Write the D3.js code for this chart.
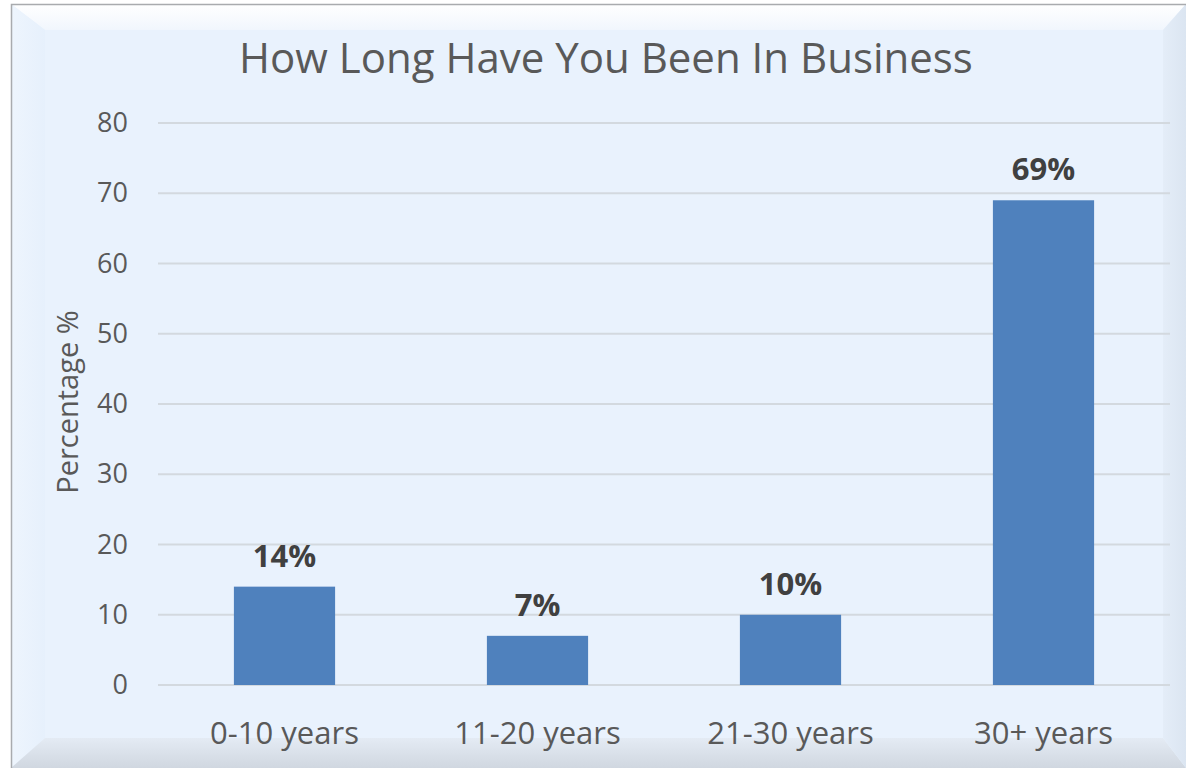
<!DOCTYPE html>
<html>
<head>
<meta charset="utf-8">
<script src="https://cdn.jsdelivr.net/npm/d3@7"></script>
<style>
  html, body { margin: 0; padding: 0; background: #ffffff; }
  svg { display: block; font-family: "Open Sans", "Noto Sans", sans-serif; }
</style>
</head>
<body>
<svg id="chart" width="1186" height="768"></svg>
<script>
const categories = ['0-10 years', '11-20 years', '21-30 years', '30+ years'];
const values = [14, 7, 10, 69];
const valueLabels = ['14%', '7%', '10%', '69%'];
const yTicks = [0, 10, 20, 30, 40, 50, 60, 70, 80];
const titleText = 'How Long Have You Been In Business';
const yTitle = 'Percentage %';

const barColor = '#4f81bd';
const textColor = '#595959';

const svg = d3.select('#chart');
const W = 1186, H = 768;

// beveled frame
const frame = {x0: 11, y0: 4, x1: 1186, y1: 768};
const inner = {x0: 45, y0: 30, x1: 1163, y1: 738};

const defs = svg.append('defs');
function grad(id, x1, y1, x2, y2, stops) {
    const g = defs.append('linearGradient').attr('id', id)
        .attr('x1', x1).attr('y1', y1).attr('x2', x2).attr('y2', y2);
    stops.forEach(s => g.append('stop').attr('offset', s[0]).attr('stop-color', s[1]));
}
grad('gTop', 0, 0, 0, 1, [[0, '#ffffff'], [1, '#f1f6fd']]);
grad('gLeft', 0, 0, 1, 0, [[0, '#eef5fd'], [1, '#e6f0fc']]);
grad('gBottom', 0, 0, 0, 1, [[0, '#e4ebf4'], [1, '#d0d7e0']]);
grad('gRight', 0, 0, 1, 0, [[0, '#e4edf8'], [1, '#dbe5f1']]);

svg.append('rect')
    .attr('x', frame.x0).attr('y', frame.y0)
    .attr('width', frame.x1 - frame.x0).attr('height', frame.y1 - frame.y0)
    .attr('fill', '#e9f2fd');

const pts = p => p.map(d => d.join(',')).join(' ');
svg.append('polygon').attr('fill', 'url(#gTop)')
    .attr('points', pts([[frame.x0, frame.y0], [frame.x1, frame.y0], [inner.x1, inner.y0], [inner.x0, inner.y0]]));
svg.append('polygon').attr('fill', 'url(#gLeft)')
    .attr('points', pts([[frame.x0, frame.y0], [inner.x0, inner.y0], [inner.x0, inner.y1], [frame.x0, frame.y1]]));
svg.append('polygon').attr('fill', 'url(#gBottom)')
    .attr('points', pts([[frame.x0, frame.y1], [inner.x0, inner.y1], [inner.x1, inner.y1], [frame.x1, frame.y1]]));
svg.append('polygon').attr('fill', 'url(#gRight)')
    .attr('points', pts([[frame.x1, frame.y0], [inner.x1, inner.y0], [inner.x1, inner.y1], [frame.x1, frame.y1]]));
svg.append('rect')
    .attr('x', inner.x0).attr('y', inner.y0)
    .attr('width', inner.x1 - inner.x0).attr('height', inner.y1 - inner.y0)
    .attr('fill', '#e9f2fd');
svg.append('path')
    .attr('d', `M${frame.x0 + 0.5},${frame.y1} V${frame.y0 + 0.5} H${frame.x1}`)
    .attr('fill', 'none').attr('stroke', '#a9abae').attr('stroke-width', 1.5);

// plot area
const margin = {left: 158, right: 16, top: 123, bottom: 83};
const plotW = W - margin.left - margin.right;
const plotH = H - margin.top - margin.bottom;

const x = d3.scaleBand().domain(categories).range([0, plotW])
    .paddingInner(0.6).paddingOuter(0.3);
const y = d3.scaleLinear().domain([0, 80]).range([plotH, 0]);

const g = svg.append('g').attr('transform', `translate(${margin.left},${margin.top})`);

// gridlines
g.append('g').selectAll('line').data(yTicks).join('line')
    .attr('x1', 0).attr('x2', plotW)
    .attr('y1', d => y(d)).attr('y2', d => y(d))
    .attr('stroke', '#d3d9df').attr('stroke-width', 2);

// y axis labels
const yAxis = g.append('g')
    .call(d3.axisLeft(y).tickValues(yTicks).tickSize(0).tickPadding(30));
yAxis.select('.domain').remove();
yAxis.selectAll('text').attr('fill', textColor).style('font-size', '27px')
    .attr('font-family', '"Open Sans", sans-serif');

// x axis labels
const xAxis = g.append('g').attr('transform', `translate(0,${plotH})`)
    .call(d3.axisBottom(x).tickSize(0).tickPadding(37));
xAxis.select('.domain').remove();
xAxis.selectAll('text').attr('fill', textColor).style('font-size', '31px')
    .attr('font-family', '"Open Sans", sans-serif');

// bars
g.selectAll('rect.bar').data(values).join('rect')
    .attr('class', 'bar')
    .attr('x', (d, i) => x(categories[i]))
    .attr('width', x.bandwidth())
    .attr('y', d => y(d))
    .attr('height', d => plotH - y(d))
    .attr('fill', barColor);

// value labels
g.selectAll('text.val').data(values).join('text')
    .attr('class', 'val')
    .attr('x', (d, i) => x(categories[i]) + x.bandwidth() / 2)
    .attr('y', d => y(d) - 20)
    .attr('text-anchor', 'middle')
    .attr('fill', '#404040')
    .style('font-size', '31px')
    .style('font-weight', 'bold')
    .text((d, i) => valueLabels[i]);

// titles
svg.append('text')
    .attr('x', 606).attr('y', 73)
    .attr('text-anchor', 'middle')
    .attr('fill', textColor)
    .style('font-size', '42px')
    .text(titleText);

svg.append('text')
    .attr('transform', `translate(78,${margin.top + plotH / 2 - 2}) rotate(-90)`)
    .attr('text-anchor', 'middle')
    .attr('fill', textColor)
    .style('font-size', '29px')
    .text(yTitle);
</script>
</body>
</html>
